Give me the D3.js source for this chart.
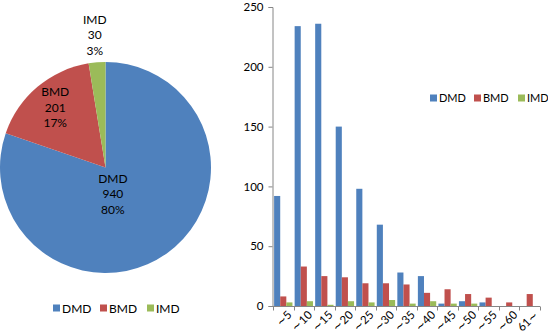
<!DOCTYPE html>
<html>
<head>
<meta charset="utf-8">
<style>
  body { margin: 0; background: #fff; }
  text { font-family: Lato, "Open Sans", sans-serif; fill: #000; }
</style>
</head>
<body>
<svg id="chart" width="548" height="333"></svg>
<script src="https://cdn.jsdelivr.net/npm/d3@7"></script>
<script>
const series = ["DMD", "BMD", "IMD"]
const colors = ["#4F81BD", "#C0504D", "#9BBB59"]
const totals = [940, 201, 30]
const percents = ["80%", "17%", "3%"]
const ageGroups = ["∼5", "∼10", "∼15", "∼20", "∼25", "∼30", "∼35", "∼40", "∼45", "∼50", "∼55", "∼60", "61∼"]
const dmd = [92, 234, 236, 150, 98, 68, 28, 25, 2, 4, 3, 0, 0]
const bmd = [8, 33, 25, 24, 19, 19, 18, 11, 14, 10, 7, 3, 10]
const imd = [3, 4, 1, 4, 3, 5, 2, 4, 2, 2, 0, 0, 0]
const yTicks = [0, 50, 100, 150, 200, 250]

let svg = d3.select("#chart")
let color = d3.scaleOrdinal().domain(series).range(colors)

// ---- pie ----
let pieG = svg.append("g").attr("transform", "translate(105.5,167.5)")
let radius = 105.5
let pie = d3.pie().sort(null).value(d => d.value)
let arc = d3.arc().innerRadius(0).outerRadius(radius)
let pieData = series.map((s, i) => ({ name: s, value: totals[i], pct: percents[i] }))
let arcs = pie(pieData)

pieG.selectAll("path")
  .data(arcs)
  .enter()
  .append("path")
  .attr("d", arc)
  .attr("fill", d => color(d.data.name))

// label radius per slice (fraction of radius), IMD sits outside the pie
let labelR = { DMD: 0.3, BMD: 0.74, IMD: 1.26 }
let labels = pieG.selectAll("g.lbl")
  .data(arcs)
  .enter()
  .append("g")
  .attr("class", "lbl")
  .attr("transform", d => {
    let r = labelR[d.data.name] * radius
    let c = d3.arc().innerRadius(r).outerRadius(r).centroid(d)
    if (d.data.name == "DMD") c = [c[0] - 11, c[1] + 1]
    return "translate(" + c + ")"
  })
labels.each(function(d) {
  let t = d3.select(this).append("text").attr("text-anchor", "middle").style("font-size", "12px")
  ;[d.data.name, d.data.value, d.data.pct].forEach((s, i) => {
    t.append("tspan").attr("x", 0).attr("y", (i - 1) * 15.5 + 4).text(s)
  })
})

// pie legend
let pieLeg = svg.append("g").attr("transform", "translate(53,308)")
let pieLegX = [0, 47, 94]
series.forEach((s, i) => {
  let g = pieLeg.append("g").attr("transform", "translate(" + pieLegX[i] + ",0)")
  g.append("rect").attr("x", 0).attr("y", -3.5).attr("width", 7).attr("height", 7).attr("fill", colors[i])
  g.append("text").attr("x", 9).attr("y", 4.5).style("font-size", "12px").text(s)
})

// ---- bar chart ----
let x0 = d3.scaleBand().domain(ageGroups).range([273, 540]).paddingInner(0).paddingOuter(0)
let x1 = d3.scaleBand().domain(series).range([0, x0.bandwidth()]).paddingInner(0).paddingOuter(0.18)
let y = d3.scaleLinear().domain([0, 250]).range([306, 7])

let rows = ageGroups.map((a, i) => ({ age: a, values: [dmd[i], bmd[i], imd[i]] }))

let groups = svg.append("g").selectAll("g")
  .data(rows)
  .enter()
  .append("g")
  .attr("transform", d => "translate(" + x0(d.age) + ",0)")

groups.selectAll("rect")
  .data(d => d.values.map((v, i) => ({ name: series[i], value: v })))
  .enter()
  .append("rect")
  .attr("x", d => x1(d.name))
  .attr("width", x1.bandwidth())
  .attr("y", d => y(d.value))
  .attr("height", d => y(0) - y(d.value))
  .attr("fill", d => color(d.name))

// y axis
let yAxis = svg.append("g")
  .attr("transform", "translate(272.5,0)")
  .call(d3.axisLeft(y).tickValues(yTicks).tickSize(4).tickPadding(5))
yAxis.select(".domain").attr("stroke", "#868686")
yAxis.selectAll(".tick line").attr("stroke", "#868686")
yAxis.selectAll(".tick text").style("font-size", "11.5px").attr("fill", "#000")
  .style("font-family", "Lato, 'Open Sans', sans-serif")

// x axis line with ticks at category boundaries
let xAxisG = svg.append("g").attr("transform", "translate(0,306.5)")
xAxisG.append("line").attr("x1", 272.5).attr("x2", 540).attr("stroke", "#868686")
let bounds = ageGroups.map(a => x0(a)).concat([x0.range()[1]])
xAxisG.selectAll("line.tk")
  .data(bounds)
  .enter()
  .append("line")
  .attr("class", "tk")
  .attr("x1", d => Math.round(d) + 0.5)
  .attr("x2", d => Math.round(d) + 0.5)
  .attr("y1", 0)
  .attr("y2", 4)
  .attr("stroke", "#868686")
xAxisG.selectAll("text")
  .data(ageGroups)
  .enter()
  .append("text")
  .attr("text-anchor", "end")
  .style("font-size", "11.5px")
  .attr("transform", d => "translate(" + (x0(d) + x0.bandwidth() / 2 + 3) + ",3) rotate(-45)")
  .attr("dy", "0.75em")
  .text(d => d)

// bar legend
let barLeg = svg.append("g").attr("transform", "translate(430,98)")
let barLegX = [0, 44, 88]
series.forEach((s, i) => {
  let g = barLeg.append("g").attr("transform", "translate(" + barLegX[i] + ",0)")
  g.append("rect").attr("x", 0).attr("y", -3.5).attr("width", 7).attr("height", 7).attr("fill", colors[i])
  g.append("text").attr("x", 9).attr("y", 4).style("font-size", "11px").text(s)
})
</script>
</body>
</html>
